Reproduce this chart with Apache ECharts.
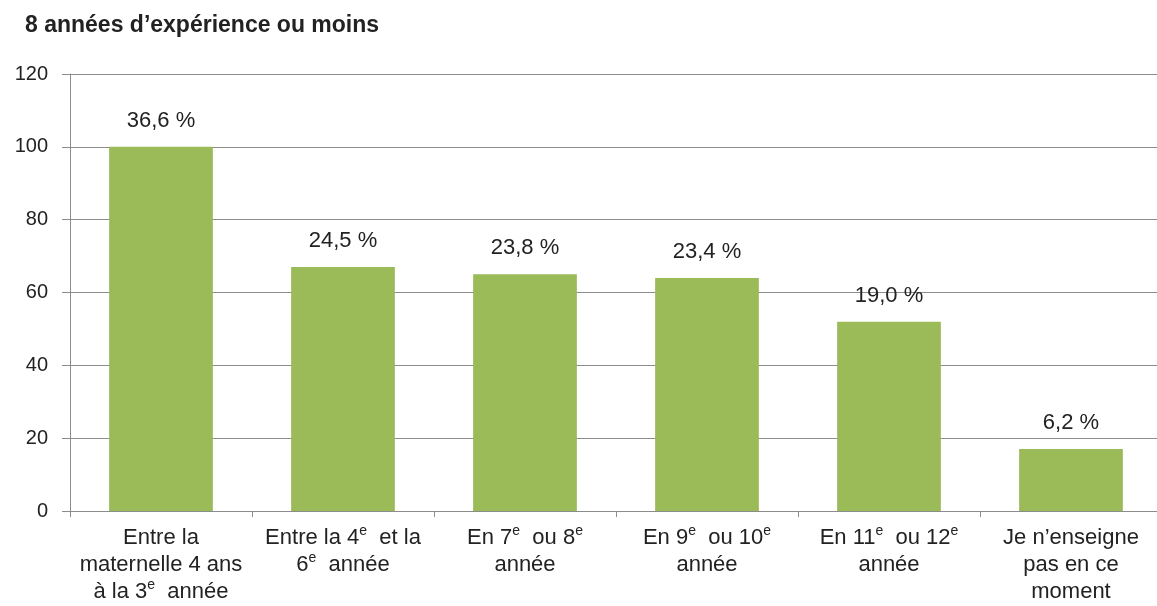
<!DOCTYPE html>
<html>
<head>
<meta charset="utf-8">
<script src="https://cdn.jsdelivr.net/npm/echarts@6/dist/echarts.min.js"></script>
<style>html,body{margin:0;padding:0;background:#fff;}#c{width:1157px;height:606px;}</style>
</head>
<body>
<div id="c"></div>
<script>
var titleText = "8 années d’expérience ou moins";
var categories = [
  "Entre la\nmaternelle 4 ans\nà la 3{sup|e}  année",
  "Entre la 4{sup|e}  et la\n6{sup|e}  année",
  "En 7{sup|e}  ou 8{sup|e}\nannée",
  "En 9{sup|e}  ou 10{sup|e}\nannée",
  "En 11{sup|e}  ou 12{sup|e}\nannée",
  "Je n’enseigne\npas en ce\nmoment"
];
var values = [100, 67, 65, 64, 52, 17];
var pctLabels = ["36,6 %", "24,5 %", "23,8 %", "23,4 %", "19,0 %", "6,2 %"];
var yTicks = { min: 0, max: 120, interval: 20 };

var FONT = "Liberation Sans, Arial, sans-serif";
var TXT = "#222222";
var AX = "#8c8c8c";

var chart = echarts.init(document.getElementById('c'));
chart.setOption({
  animation: false,
  backgroundColor: '#fff',
  title: {
    text: titleText,
    left: 25, top: 14, padding: 0,
    textStyle: { fontFamily: FONT, fontSize: 23, fontWeight: 'bold', color: TXT }
  },
  grid: { left: 70, width: 1092, top: 74, bottom: 95, outerBoundsMode: 'none', containLabel: false },
  xAxis: {
    type: 'category',
    data: categories,
    axisLine: { show: true, lineStyle: { color: AX, width: 1 } },
    axisTick: { show: true, length: 6, alignWithLabel: false, lineStyle: { color: AX } },
    axisLabel: {
      interval: 0, margin: 13,
      fontFamily: FONT, fontSize: 22, color: TXT, lineHeight: 27, align: 'center',
      rich: {
        sup: { fontFamily: FONT, fontSize: 14, color: TXT, lineHeight: 15, verticalAlign: 'top' }
      }
    }
  },
  yAxis: {
    type: 'value',
    min: yTicks.min, max: yTicks.max, interval: yTicks.interval,
    axisLine: { show: true, lineStyle: { color: AX, width: 1 } },
    axisTick: { show: true, length: 8, lineStyle: { color: AX } },
    axisLabel: { margin: 22, fontFamily: FONT, fontSize: 20, color: TXT },
    splitLine: { show: true, lineStyle: { color: AX, width: 1 } }
  },
  series: [{
    type: 'bar',
    data: values,
    barCategoryGap: '43%',
    itemStyle: { color: '#9BBB59' },
    label: {
      show: true, position: 'top', distance: 15,
      fontFamily: FONT, fontSize: 22, color: TXT,
      formatter: function (p) { return pctLabels[p.dataIndex]; }
    }
  }]
});
</script>
</body>
</html>
